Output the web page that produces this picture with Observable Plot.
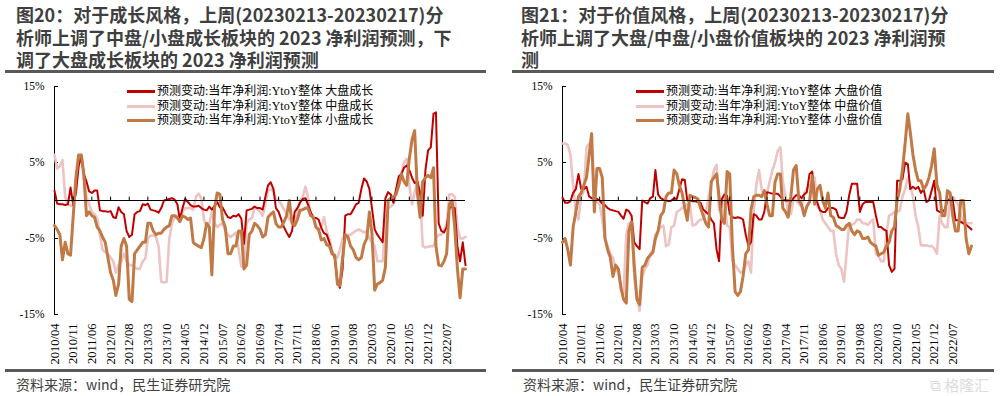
<!DOCTYPE html>
<html><head><meta charset="utf-8">
<script src="https://cdn.jsdelivr.net/npm/d3@7"></script>
<script src="https://cdn.jsdelivr.net/npm/@observablehq/plot@0.6"></script>
<style>
body{margin:0;width:1001px;height:396px;background:#fff;position:relative;overflow:hidden;font-family:"Noto Sans CJK SC","Noto Sans",sans-serif;}
.title{position:absolute;font-weight:bold;font-size:18px;line-height:22.5px;color:#3f3f3f;white-space:nowrap;}
.rule{position:absolute;height:3px;background:#595959;}
.src{position:absolute;font-size:14px;line-height:16px;color:#404040;white-space:nowrap;}
.lg{position:absolute;font-family:"Liberation Serif","Noto Sans CJK SC",serif;font-size:12px;line-height:14px;color:#000;white-space:nowrap;}
.sw{position:absolute;height:3px;width:28px;}
.panel{position:absolute;top:80px;}
.wm{position:absolute;left:930px;top:374px;font-size:15px;color:#dcdcdc;white-space:nowrap;}
</style></head>
<body>
<div class="title" style="left:16px;top:3px">图20：对于成长风格，上周(20230213-20230217)分<br>析师上调了中盘/小盘成长板块的 2023 净利润预测，下<br>调了大盘成长板块的 2023 净利润预测</div>
<div class="title" style="left:521px;top:3px">图21：对于价值风格，上周(20230213-20230217)分<br>析师上调了大盘/中盘/小盘价值板块的 2023 净利润预<br>测</div>
<div class="rule" style="left:5px;top:70px;width:481px"></div>
<div class="rule" style="left:512px;top:70px;width:482px"></div>
<div class="rule" style="left:5px;top:369px;width:481px"></div>
<div class="rule" style="left:512px;top:369px;width:482px"></div>
<div class="src" style="left:16px;top:376px">资料来源：wind，民生证券研究院</div>
<div class="src" style="left:523px;top:376px">资料来源：wind，民生证券研究院</div>
<div class="wm">⧉ 格隆汇</div>
<div id="left" class="panel" style="left:0px"></div>
<div id="right" class="panel" style="left:500px"></div>
<div id="legends"></div>
<script>
// ---- data (monthly readings, % change in forecast) ----
const startMonth = "2010/04";
const tickLabels = ["2010/04","2010/11","2011/06","2012/01","2012/08","2013/03","2013/10","2014/05","2014/12","2015/07","2016/02","2016/09","2017/04","2017/11","2018/06","2019/01","2019/08","2020/03","2020/10","2021/05","2021/12","2022/07"];
const yTicks = [15, 5, -5, -15];

const growthNames = ["预测变动:当年净利润:YtoY整体 大盘成长","预测变动:当年净利润:YtoY整体 中盘成长","预测变动:当年净利润:YtoY整体 小盘成长"];
const valueNames = ["预测变动:当年净利润:YtoY整体 大盘价值","预测变动:当年净利润:YtoY整体 中盘价值","预测变动:当年净利润:YtoY整体 小盘价值"];

const bigGrowth = [1.3,-0.4,-0.5,-0.5,-0.6,-0.5,1.7,-0.6,1.0,4.5,
5.8,3.5,2.5,1.2,1.0,1.3,1.3,-1.3,-1.4,-1.4,
-1.5,-1.4,-2.2,-2.3,-0.9,-1.5,-1.8,-4.0,-4.8,-4.5,
-1.8,-1.5,-1.4,-0.5,-0.6,-0.4,-1.2,-1.3,-1.4,-1.6,
-1.0,0,0.1,0.2,0.3,0.1,-0.5,-2.5,-1.0,0.2,
-0.2,-0.6,-0.8,-0.8,-0.7,-1.0,-1.2,-1.3,-0.8,-1.2,
-0.7,-0.2,-0.9,-0.9,-1.6,-2.2,-2.3,-2.0,-2.1,-1.8,
-2.4,-5.7,-1.3,-1.2,-1.1,-0.8,-1.0,-1.0,-1.2,0.5,
2.0,2.4,1.5,-1.0,-1.5,-2.5,-3.5,-4.2,-4.8,-4.0,
-1.5,-1.0,-0.3,0.2,0.3,-0.5,-1.5,-2.3,-2.3,-2.5,
-3.6,-4.3,-4.5,-5.5,-6.8,-7.5,-10.5,-11.5,-9.0,-2.0,
-1.8,-1.8,-1.2,-0.5,-0.3,1.5,2.9,2.5,1.5,-1.0,
-3.8,-4.5,-5.0,-5.5,0.3,1.1,0.8,-0.3,1.5,3.2,
3.5,4.3,4.6,4.0,3.0,2.3,2.5,1.0,-2.0,4.0,
6.6,7.0,11.4,11.6,-3.0,-4.0,-4.2,-3.5,-1.0,-0.8,
-1.0,-6.0,-8.0,-5.5,-8.5];
const midGrowth = [6.0,4.2,4.5,5.3,0.5,-0.5,-0.7,-0.5,1.0,5.0,
6.0,3.0,0.5,-0.5,-1.5,-1.8,-2.4,-4.5,-6.5,-6.8,
-7.0,-7.5,-8.0,-9.5,-8.5,-8.0,-7.0,-8.0,-8.5,-8.5,
-8.8,-9.0,-9.0,-8.0,-7.6,-5.0,-4.6,-4.6,-4.8,-6.0,
-10.7,-10.8,-10.7,-5.0,-3.0,-2.2,-2.0,-2.0,-1.5,-1.0,
-1.0,-1.0,-1.2,0.5,0.9,0.3,-2.5,-3.5,-3.0,-1.5,
-3.0,-3.5,-3.2,-3.0,-4.0,-4.5,-4.8,-4.5,-4.2,-6.5,
-8.7,-8.5,-3.0,-2.5,-2.3,-0.9,-1.2,-1.5,-2.0,-0.5,
1.3,1.5,1.2,0.2,0.0,-0.5,-1.2,-1.8,-2.5,-2.8,
-2.8,-1.5,0.0,0.5,1.8,0.5,-1.8,-2.0,-3.5,-4.0,
-3.5,-2.2,-4.0,-5.0,-6.5,-7.5,-7.5,-6.5,-5.0,-4.8,
-4.5,-4.5,-4.2,-4.0,-3.8,-4.0,-4.2,-4.0,-5.0,-5.5,
-6.0,-8.0,-8.0,-8.0,-2.5,-1.0,-0.8,-0.5,1.0,2.0,
3.5,5.0,5.5,2.0,-0.5,1.0,2.5,1.0,-6.0,-6.2,
-6.1,-6.0,-6.0,-5.0,-4.5,-4.5,-4.0,-3.0,0.8,0.8,
0.5,-3.5,-5.0,-5.0,-4.8];
const smallGrowth = [-3.3,-3.8,-4.5,-7.8,-5.5,-7.0,-7.2,-2.0,3.0,6.0,
6.0,3.5,-2.0,-1.5,-2.0,-2.2,-3.5,-4.0,-4.8,-5.5,
-7.5,-9.5,-10.5,-12.5,-11.0,-6.0,-5.0,-6.0,-13.0,-13.3,
-7.0,-6.5,-6.0,-5.5,-5.5,-3.0,-3.0,-4.0,-4.5,-4.3,
-4.3,-3.8,-3.5,-3.3,-2.0,-2.0,-2.3,-2.8,-2.0,-2.2,
-2.5,-2.3,-5.5,-5.8,-6.0,-6.2,-5.0,-3.0,-3.5,-9.8,
-1.0,1.0,0.8,-2.5,-3.5,-7.0,-7.0,-6.0,-6.0,-4.0,
-4.0,-9.0,-8.5,-4.5,-4.0,-3.0,-3.3,-3.8,-4.8,-4.5,
-2.2,-1.8,-1.5,-3.0,-3.5,-3.5,-2.8,-2.0,0.0,-3.0,
-3.3,-2.5,-1.3,-1.2,-1.0,-1.0,-2.0,-2.2,-3.5,-3.8,
-5.2,-5.0,-5.8,-6.0,-7.0,-7.2,-11.0,-11.2,-7.5,-4.5,
-4.8,-6.0,-6.5,-7.5,-7.8,-7.5,-5.8,-5.0,-1.5,-4.4,
-11.8,-11.0,-10.8,-10.5,-8.8,0.0,0.3,0.5,0.8,2.0,
3.5,2.5,2.0,5.5,8.0,9.2,1.0,-2.2,2.5,3.0,
3.3,3.0,4.3,-6.0,-8.5,-8.6,-8.0,-7.0,-0.5,0.0,
-3.5,-9.0,-12.8,-9.0,-9.0];

const bigValue = [0.4,-0.3,-0.3,-0.1,1.0,1.5,3.5,1.5,1.5,1.8,
0.5,0.3,0.2,0.2,0.0,-0.4,-0.6,-1.0,-1.2,-1.3,
-1.4,-1.5,-2.0,-2.4,-1.2,-1.4,-2.0,-5.5,-6.0,-6.4,
0.0,-0.2,-0.4,0.3,0.5,4.0,0.8,0.3,0.1,0.0,
-0.1,0.0,0.3,0.2,1.5,2.8,2.7,0.0,0.0,-0.1,
-0.1,-0.2,-0.3,-1.2,-1.5,-1.8,-2.5,-3.0,-6.5,-8.0,
0.2,0.8,0.6,-1.8,-2.2,-2.3,-2.2,-2.3,-2.5,-4.5,
-6.0,-5.5,-1.8,-2.0,-2.5,-2.5,-1.5,1.1,1.0,0.9,
0.9,0.9,0.5,0.1,0.0,0.0,-0.1,0.3,0.7,0.7,
0.3,0.8,1.1,3.5,3.8,0.5,-0.3,-1.3,-1.5,-1.5,
-1.0,-1.0,-1.0,-1.2,-2.2,-2.3,-2.3,-1.5,0.7,2.2,
2.2,2.2,-1.5,-0.5,-0.2,-0.2,-0.2,-0.2,-2.0,-3.5,
-3.5,-3.8,-4.0,-8.5,-9.4,-9.0,2.6,2.6,2.8,5.0,
4.8,1.5,1.8,1.5,1.8,1.0,1.5,-0.2,0.0,1.3,
2.6,-1.3,-1.5,-1.5,-1.2,0.0,0.2,0.0,-2.6,-2.6,
-2.8,-3.0,-3.2,-3.5,-3.8];
const midValue = [7.5,7.5,7.3,6.0,2.0,-1.5,-2.5,0.5,1.2,7.0,
7.5,7.0,1.0,-0.2,-0.5,-2.5,-5.0,-6.0,-7.0,-7.5,
-9.0,-9.5,-11.8,-12.3,-4.5,-3.0,-3.0,-10.0,-12.5,-14.5,
-10.0,-9.0,-8.5,-7.0,-6.5,-4.5,-4.0,-3.5,-3.3,-6.0,
-5.8,-3.5,-3.3,-1.5,-1.3,-1.0,-0.8,-0.5,-0.6,-3.3,
-3.2,-2.8,-2.5,-2.5,-1.5,0.5,2.0,4.0,4.7,-1.3,
0.2,0.3,-3.3,-3.5,-8.0,-8.5,-9.0,-9.5,-9.3,-8.5,
-8.0,-9.5,-1.5,2.0,4.0,1.5,0.8,1.0,2.5,4.0,
5.0,6.5,7.0,2.5,0.5,-1.5,-1.8,0.2,0.0,-0.5,
-0.8,1.0,1.5,2.0,2.0,3.0,-0.8,-1.2,-2.5,-3.0,
-3.5,-4.0,-4.0,-7.0,-8.5,-9.0,-10.7,-7.0,-3.0,-3.2,
-3.0,-2.5,-2.5,-3.0,-3.0,-3.2,-2.8,-2.5,-7.0,-7.3,
-8.0,-8.0,-4.3,-2.0,-1.8,-1.5,-1.5,-1.3,0.5,1.5,
3.0,2.0,0.5,-2.0,-3.5,-5.9,-5.9,-5.9,-6.0,-6.0,
-6.3,-7.0,-2.0,-3.0,-3.5,-3.5,0.5,0.5,0.0,-0.5,
-2.0,-3.0,-3.0,-3.0,-3.0];
const smallValue = [-5.5,-5.0,-6.5,-8.5,-3.5,-1.5,0.5,1.0,2.0,3.0,
6.0,8.8,-1.5,4.2,4.2,3.0,-5.0,-6.5,-7.5,-10.0,
-8.5,-9.0,-11.5,-13.0,-13.5,-4.0,-2.8,-8.5,-13.0,-13.7,
-8.8,-8.5,-7.6,-7.2,-6.8,-5.0,-4.0,-2.0,-1.5,0.5,
1.0,1.0,4.0,3.5,2.0,1.0,-1.0,-2.6,0.7,0.5,
0.4,0.2,-1.0,-2.0,-3.0,-3.5,2.5,3.0,3.5,0.5,
-2.5,-3.0,3.8,3.5,-6.0,-12.0,-12.5,-12.0,-10.0,-7.0,
-6.5,-1.2,0.5,0.7,0.7,0.5,1.3,-0.5,-2.0,-2.0,
2.4,3.5,3.5,-1.0,-1.5,-2.2,0.5,4.0,4.6,0.0,
-0.5,-2.0,-0.8,-0.2,3.2,-0.5,1.5,2.0,0.0,-1.0,
1.0,-2.0,-2.2,-3.3,-3.5,-3.8,-3.8,-3.3,-3.0,-4.0,
-4.5,-4.0,-4.2,-5.0,-5.0,-4.8,-5.5,-5.8,-6.0,-7.2,
-7.0,-6.8,-6.0,-5.5,-4.0,-3.5,0.0,1.5,4.0,7.5,
11.4,9.0,6.0,4.0,2.6,2.6,1.5,2.0,3.0,4.6,
6.8,2.0,1.0,-2.0,-2.0,1.3,1.0,-2.0,-4.0,-4.0,
0.0,0.0,-5.0,-7.0,-6.0];

const colors = ["#C00000", "#EDC3C3", "#C17A46"];
const widths = [2, 2.6, 3];

// ---- drawing ----
const parseM = d3.utcParse("%Y/%m");
const t0 = parseM(startMonth);
const dateAt = i => d3.utcMonth.offset(t0, i);
const tickDates = tickLabels.map(parseM);

function panel(seriesList, width, ml, mr) {
  const n = seriesList[0].length;
  const x0 = dateAt(0), x1 = dateAt(n - 1);
  const lines = [1, 0, 2].map(k => {
    const rows = seriesList[k].map((v, i) => ({date: dateAt(i), value: v}));
    return Plot.lineY(rows, {x: "date", y: "value", stroke: colors[k], strokeWidth: widths[k], strokeLinejoin: "round"});
  });
  return Plot.plot({
    width, height: 290,
    marginLeft: ml, marginRight: mr, marginTop: 6, marginBottom: 56,
    x: {type: "utc", domain: [x0, x1]},
    y: {domain: [-15, 15]},
    style: {fontFamily: "'Liberation Serif', serif", fontSize: "12px", color: "#000", background: "none", overflow: "visible"},
    marks: [
      Plot.axisY({ticks: yTicks, tickSize: 0, tickPadding: 10, tickFormat: d => d + "%", fontSize: 11.5, label: null}),
      Plot.axisX({ticks: tickDates, tickSize: 0, tickPadding: 9, tickRotate: -90, tickFormat: d3.utcFormat("%Y/%m"), fontSize: 12.5, label: null}),
      Plot.ruleX([x0], {y1: -15, y2: 15, stroke: "#000", strokeWidth: 1}),
      Plot.ruleY(yTicks, {y: d => d, x1: x0, x2: d3.utcDay.offset(x0, 46), stroke: "#000"}),
      ...lines,
      Plot.ruleY([0], {x1: x0, x2: x1, stroke: "#000", strokeWidth: 1.2}),
      Plot.ruleX(tickDates.slice(1), {x: d => d, y1: 0, y2: 0.45, stroke: "#000"})
    ]
  });
}

document.getElementById("left").appendChild(panel([bigGrowth, midGrowth, smallGrowth], 500, 54, 35));
document.getElementById("right").appendChild(panel([bigValue, midValue, smallValue], 501, 62, 30));

// legends
function legend(names, swLeft) {
  const box = document.getElementById("legends");
  const ys = [91, 106, 120];
  names.forEach((name, k) => {
    const sw = document.createElement("div");
    sw.className = "sw";
    sw.style.left = swLeft + "px";
    sw.style.top = (ys[k] - 1.5) + "px";
    sw.style.background = colors[k];
    box.appendChild(sw);
    const t = document.createElement("div");
    t.className = "lg";
    t.style.left = (swLeft + 30) + "px";
    t.style.top = (ys[k] - 7) + "px";
    t.textContent = name;
    box.appendChild(t);
  });
}
legend(growthNames, 127);
legend(valueNames, 636);
</script>
</body></html>
